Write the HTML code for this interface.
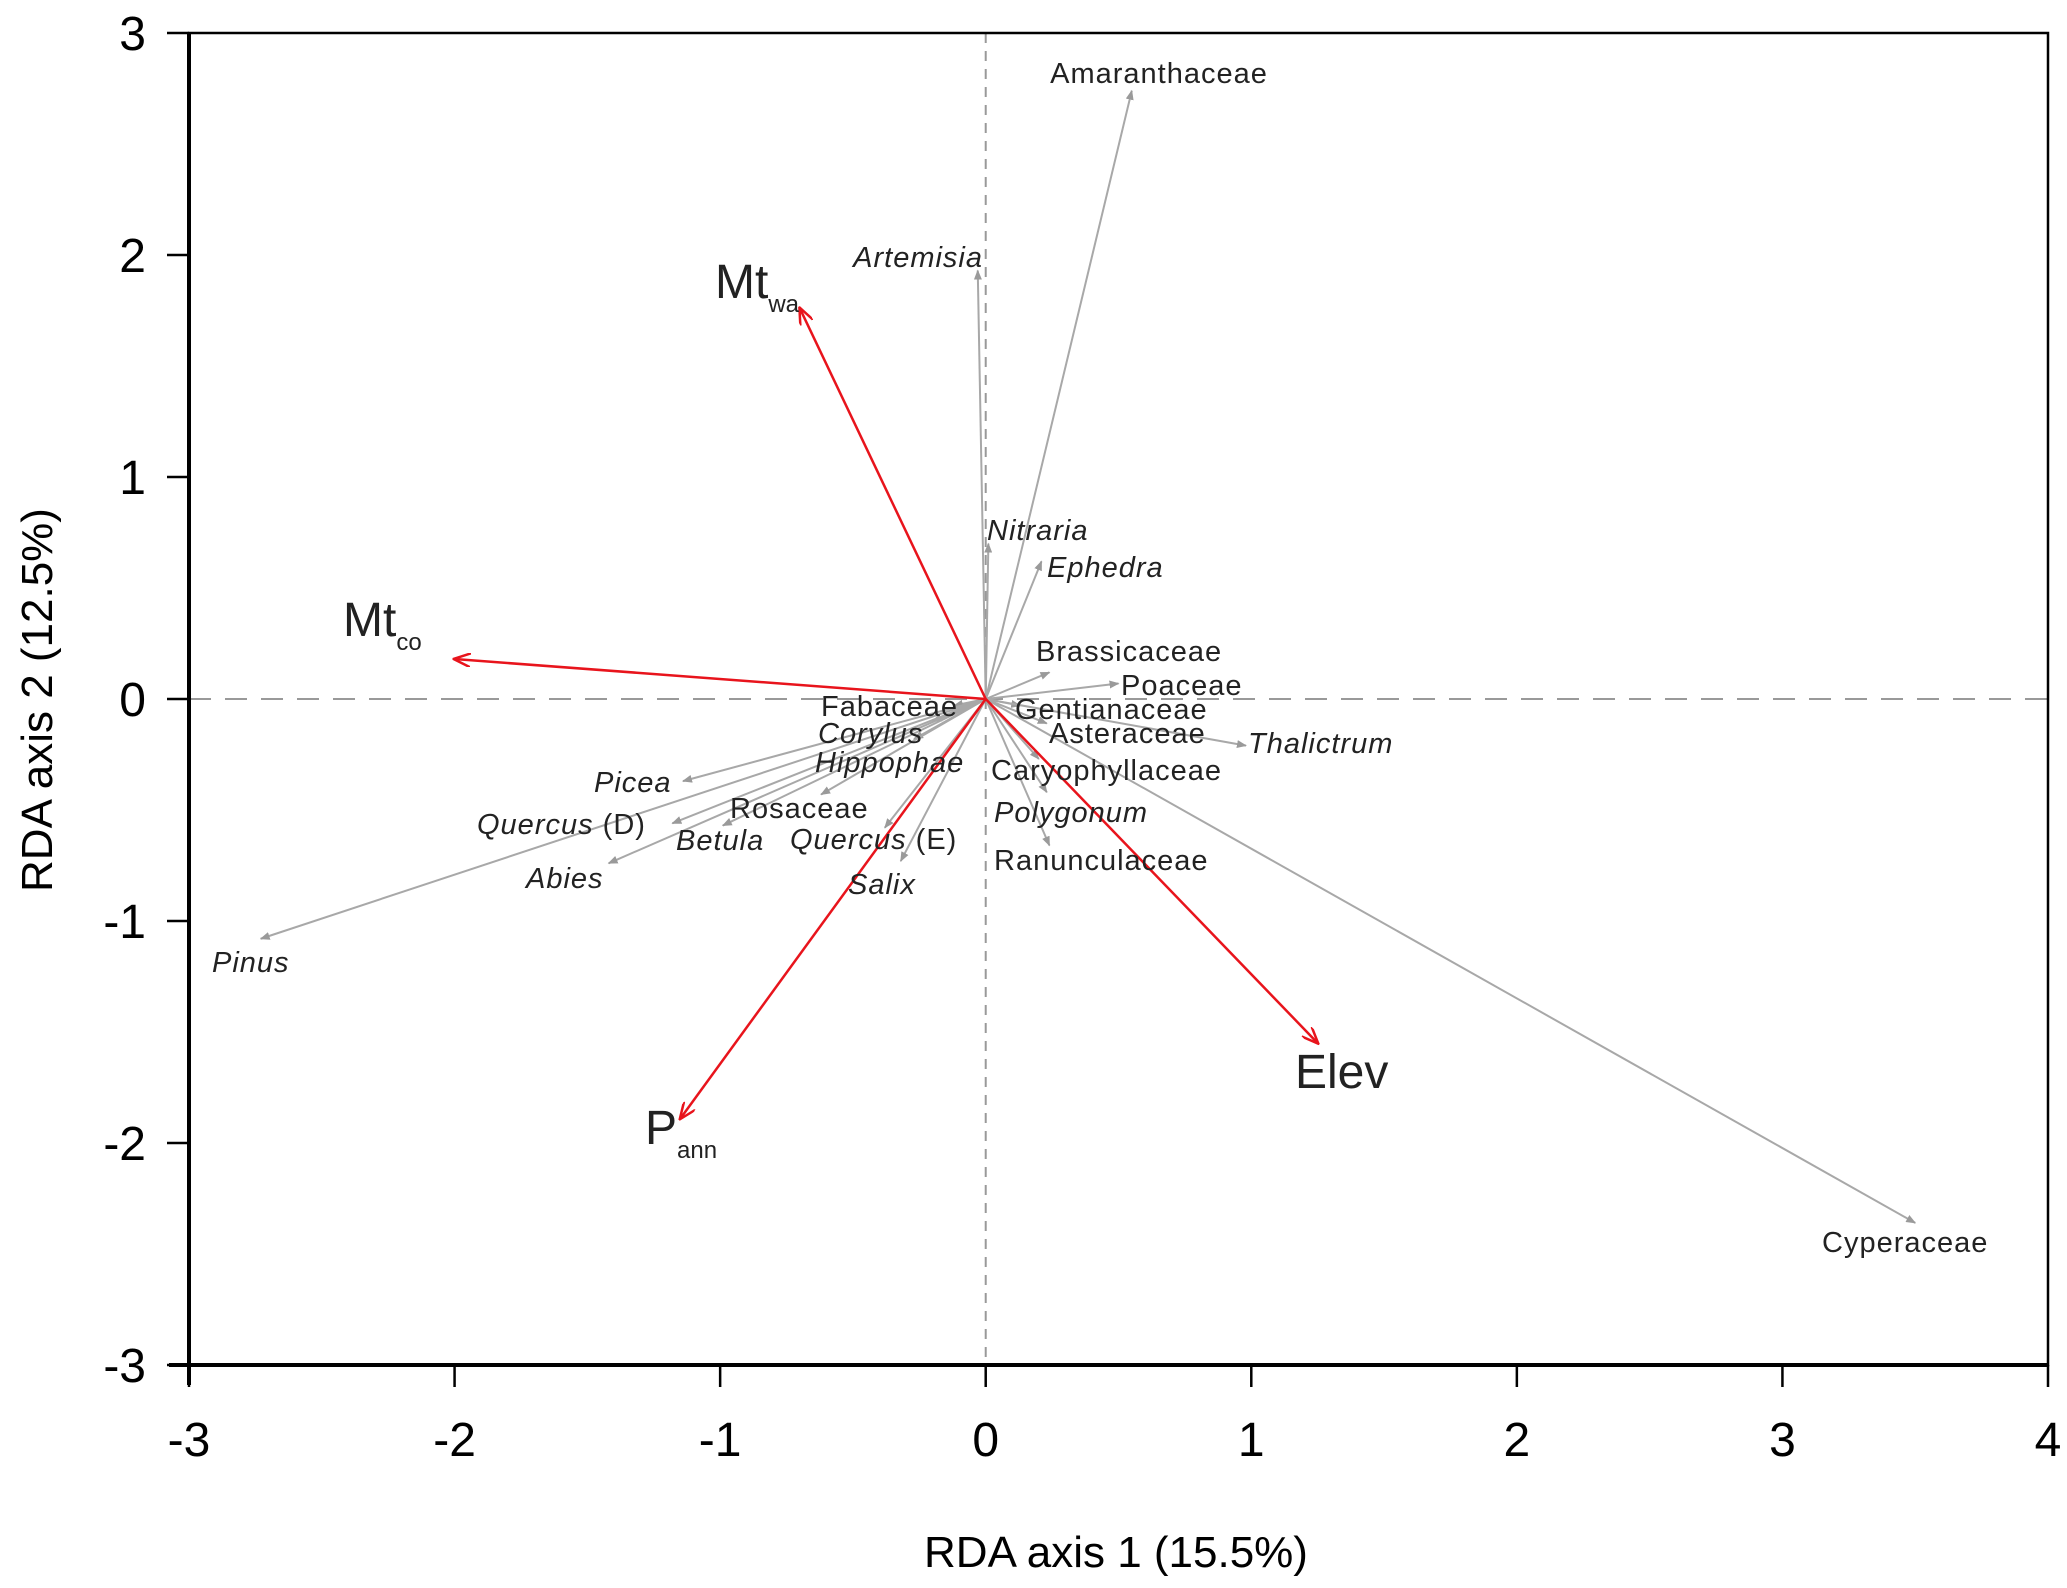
<!DOCTYPE html>
<html><head><meta charset="utf-8"><style>
html,body{margin:0;padding:0;background:#fff;}
svg{display:block;font-family:"Liberation Sans",Arial,sans-serif;}
.sp{font-size:29px;fill:#222;letter-spacing:1px;}
.it{font-style:italic;}
.env{font-size:48px;fill:#222;}
.tick{font-size:48px;fill:#000;}
.title{font-size:44px;fill:#000;}
</style></head><body>
<svg id="chart" width="2067" height="1588" viewBox="0 0 2067 1588" xmlns="http://www.w3.org/2000/svg">
<defs>
<marker id="ag" markerWidth="10" markerHeight="8" refX="9" refY="4" orient="auto" markerUnits="userSpaceOnUse"><path d="M0,0 L10,4 L0,8 Z" fill="#9a9a9a"/></marker>
<marker id="ar" markerWidth="18" markerHeight="14" refX="16" refY="7" orient="auto" markerUnits="userSpaceOnUse"><path d="M0,0 L17,7 L0,14" fill="none" stroke="#e8141c" stroke-width="2.5"/></marker>
</defs>
<g id="plot"></g>
</svg>
<script>
const speciesNames=["Amaranthaceae","Artemisia","Nitraria","Ephedra","Brassicaceae","Poaceae","Gentianaceae","Asteraceae","Thalictrum","Caryophyllaceae","Polygonum","Ranunculaceae","Cyperaceae","Fabaceae","Corylus","Hippophae","Picea","Quercus (D)","Rosaceae","Betula","Quercus (E)","Abies","Salix","Pinus"];
const speciesX=[0.55,-0.03,0.01,0.21,0.24,0.50,0.13,0.23,0.98,0.20,0.23,0.24,3.50,-0.12,-0.20,-0.27,-1.14,-1.18,-0.62,-0.99,-0.38,-1.42,-0.32,-2.73];
const speciesY=[2.74,1.93,0.70,0.62,0.12,0.07,-0.03,-0.11,-0.21,-0.27,-0.42,-0.66,-2.36,-0.03,-0.10,-0.18,-0.37,-0.56,-0.43,-0.57,-0.58,-0.74,-0.73,-1.08];
const speciesItalic=[0,1,1,1,0,0,0,0,1,0,1,0,0,0,1,1,1,1,0,1,1,1,1,1];
const envNames=["Mt","Mt","P","Elev"];
const envSubs=["wa","co","ann",""];
const envX=[-0.70,-2.00,-1.15,1.25];
const envY=[1.76,0.18,-1.89,-1.55];
const xTicks=[-3,-2,-1,0,1,2,3,4];
const yTicks=[-3,-2,-1,0,1,2,3];
// label layout (pixel positions, not data)
const labelPos=[[1159,73,"middle"],[983,257,"end"],[987,530,"start"],[1047,567,"start"],[1036,651,"start"],[1121,685,"start"],[1015,709,"start"],[1049,733,"start"],[1248,743,"start"],[991,770,"start"],[994,812,"start"],[994,860,"start"],[1822,1242,"start"],[821,706,"start"],[818,733,"start"],[815,762,"start"],[594,782,"start"],[477,824,"start"],[730,808,"start"],[676,840,"start"],[790,839,"start"],[526,878,"start"],[848,884,"start"],[212,962,"start"]];
const envLabelPos=[[715,282],[343,620],[645,1128],[1295,1072]];

const X0=189,X1=2048,Y0=1365,Y1=33;
const sx=v=>X0+(v+3)*(X1-X0)/7;
const sy=v=>Y0-(v+3)*(Y0-Y1)/6;
const NS="http://www.w3.org/2000/svg";
const g=document.getElementById('plot');
function mk(tag,attrs,parent){const e=document.createElementNS(NS,tag);for(const k in attrs)e.setAttribute(k,attrs[k]);(parent||g).appendChild(e);return e;}

let e=mk('line',{x1:X0,y1:sy(0),x2:X1,y2:sy(0),stroke:'#999','stroke-width':2,'stroke-dasharray':'22,14'});


e=mk('line',{x1:sx(0),y1:Y1,x2:sx(0),y2:Y0,stroke:'#999','stroke-width':2,'stroke-dasharray':'10,8'});



e=mk('rect',{x:X0,y:Y1,width:X1-X0,height:Y0-Y1,fill:'none',stroke:'#000','stroke-width':2.5});


e=mk('line',{x1:X0,y1:Y1,x2:X0,y2:Y0+20,stroke:'#000','stroke-width':4});


e=mk('line',{x1:X0-20,y1:Y0,x2:X1,y2:Y0,stroke:'#000','stroke-width':4});



xTicks.forEach(t=>{
  const l=mk('line',{x1:sx(t),y1:Y0,x2:sx(t),y2:Y0+22,stroke:'#000','stroke-width':2.5});
  
  
  const tx=mk('text',{x:sx(t),y:1456,'text-anchor':'middle',class:'tick'});
  tx.textContent=t;
  
  
});
yTicks.forEach(t=>{
  const l=mk('line',{x1:X0-22,y1:sy(t),x2:X0,y2:sy(t),stroke:'#000','stroke-width':2.5});
  
  
  const tx=mk('text',{x:146,y:sy(t)+17,'text-anchor':'end',class:'tick'});
  tx.textContent=t;
  
  
});

speciesNames.forEach((n,i)=>{
  const a=mk('line',{x1:sx(0),y1:sy(0),x2:sx(speciesX[i]),y2:sy(speciesY[i]),stroke:'#a8a8a8','stroke-width':2,'marker-end':'url(#ag)'});
  
  
});
envNames.forEach((n,i)=>{
  const a=mk('line',{x1:sx(0),y1:sy(0),x2:sx(envX[i]),y2:sy(envY[i]),stroke:'#e8141c','stroke-width':2.5,'marker-end':'url(#ar)'});
  
  
});
speciesNames.forEach((n,i)=>{
  const p=labelPos[i];
  const t=mk('text',{x:p[0],y:p[1]+10,'text-anchor':p[2],class:'sp'});
  
  
  const m=n.match(/^(\S+)( \(.\))?$/);
  const s1=mk('tspan',{},t);s1.textContent=m[1];
  if(speciesItalic[i])s1.setAttribute('class','it');
  if(m[2]){const s2=mk('tspan',{},t);s2.textContent=m[2];}
});
envNames.forEach((n,i)=>{
  const p=envLabelPos[i];
  const t=mk('text',{x:p[0],y:p[1]+16,class:'env'});
  
  
  const s=mk('tspan',{},t);s.textContent=n;
  if(envSubs[i]){const s2=mk('tspan',{dy:14,'font-size':24},t);s2.textContent=envSubs[i];}
});
e=mk('text',{x:1116,y:1567,'text-anchor':'middle',class:'title'});
e.textContent='RDA axis 1 (15.5%)';


e=mk('text',{x:0,y:0,'text-anchor':'middle',class:'title',transform:'translate(52,700) rotate(-90)'});
e.textContent='RDA axis 2 (12.5%)';


</script>
</body></html>
